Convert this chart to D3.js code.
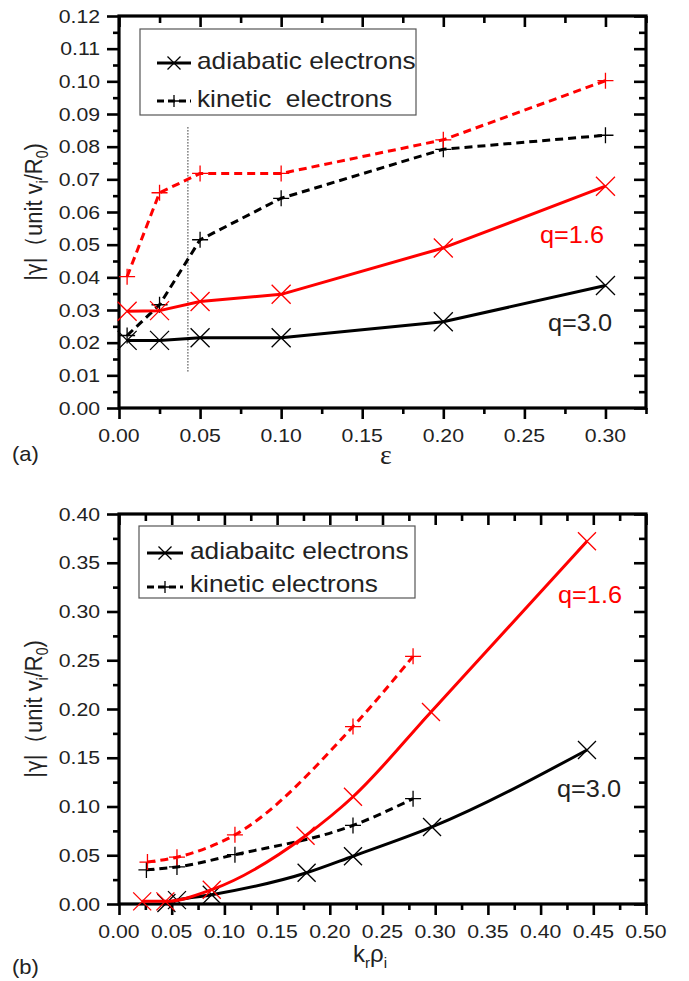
<!DOCTYPE html>
<html>
<head>
<meta charset="utf-8">
<script src="https://cdn.jsdelivr.net/npm/d3@7"></script>
<style>
  html, body { margin: 0; padding: 0; background: #fff; }
  svg { display: block; }
  text { font-family: "Liberation Sans", Arial, sans-serif; fill: #222; }
</style>
</head>
<body>
<svg id="chart" width="689" height="981"></svg>
<script>
// ---- panel (a): growth rate vs inverse aspect ratio epsilon ----
const epsValues      = [0.005, 0.025, 0.05, 0.10, 0.20, 0.30];
const adiabaticQ30_a = [0.0207, 0.0207, 0.0215, 0.0215, 0.0264, 0.0375];
const adiabaticQ16_a = [0.0296, 0.0298, 0.0326, 0.0348, 0.0490, 0.0679];
const kineticQ30_a   = [0.0222, 0.0316, 0.0515, 0.0642, 0.0792, 0.0835];
const kineticQ16_a   = [0.0402, 0.0659, 0.0718, 0.0718, 0.0821, 0.1002];
const epsTicks       = [0, 0.05, 0.10, 0.15, 0.20, 0.25, 0.30];
const gammaTicksA    = [0, 0.01, 0.02, 0.03, 0.04, 0.05, 0.06, 0.07, 0.08, 0.09, 0.10, 0.11, 0.12];
const markerEps      = 0.0425;          // vertical reference line
const markerEpsSpan  = [0.0111, 0.086];

// ---- panel (b): growth rate vs k_r rho_i ----
const krAdiabaticQ16 = [0.022, 0.044, 0.088, 0.177, 0.222, 0.296, 0.444];
const adiabaticQ16_b = [0.0027, 0.0027, 0.0147, 0.070, 0.110, 0.197, 0.372];
const krAdiabaticQ30 = [0.045, 0.055, 0.088, 0.178, 0.222, 0.297, 0.444];
const adiabaticQ30_b = [0.001, 0.004, 0.0095, 0.032, 0.049, 0.079, 0.158];
const krKineticQ16   = [0.027, 0.055, 0.110, 0.222, 0.279];
const kineticQ16_b   = [0.043, 0.048, 0.071, 0.182, 0.254];
const krKineticQ30   = [0.026, 0.055, 0.110, 0.222, 0.279];
const kineticQ30_b   = [0.035, 0.038, 0.0506, 0.0806, 0.108];
const krTicks        = [0, 0.05, 0.10, 0.15, 0.20, 0.25, 0.30, 0.35, 0.40, 0.45, 0.50];
const gammaTicksB    = [0, 0.05, 0.10, 0.15, 0.20, 0.25, 0.30, 0.35, 0.40];

const RED = "#ff0000", BLACK = "#000000";
const svg = d3.select("#chart");
const fmt = d3.format(".2f");

function zip(xs, ys) { return xs.map((x, i) => [x, ys[i]]); }
function halfSteps(ticks, lo, hi) {
  const step = (ticks[1] - ticks[0]) / 2, out = [];
  for (let v = lo; v <= hi + 1e-9; v += step) out.push(+v.toFixed(4));
  return out.filter(v => !ticks.some(t => Math.abs(t - v) < 1e-6));
}

// text with a slight horizontal stretch
function label(g, x, y, str, o = {}) {
  const t = g.append("text")
    .attr("transform", `translate(${x},${y}) scale(${o.sx || 1.13},1)`)
    .attr("text-anchor", o.anchor || "start")
    .attr("font-size", o.size || 18)
    .style("fill", o.color || "#222")
    .text(str);
  return t;
}

function crossPath(s) { return `M${-s},${-s}L${s},${s}M${-s},${s}L${s},${-s}`; }
function plusPath(s)  { return `M${-s},0L${s},0M0,${-s}L0,${s}`; }

function drawPanel(cfg) {
  const g = svg.append("g");
  const x = d3.scaleLinear().domain(cfg.xDomain).range([119, 646]);
  const y = d3.scaleLinear().domain(cfg.yDomain).range([cfg.bottom, cfg.top]);
  const xMinor = halfSteps(cfg.xTicks, cfg.xDomain[0], cfg.xDomain[1]);
  const yMinor = halfSteps(cfg.yTicks, cfg.yDomain[0], cfg.yDomain[1]);

  const tickAxis = (axis, vals, size, transform) => {
    g.append("g").attr("transform", transform)
      .call(axis.tickValues(vals).tickSize(size).tickFormat(""))
      .call(s => s.select(".domain").remove())
      .call(s => s.selectAll("line").attr("stroke", BLACK).attr("stroke-width", 2.6));
  };
  // outward ticks on left and bottom, inward on top and right
  tickAxis(d3.axisLeft(y), cfg.yTicks, 12, "translate(119,0)");
  tickAxis(d3.axisLeft(y), yMinor, 6, "translate(119,0)");
  tickAxis(d3.axisBottom(x), cfg.xTicks, 11, `translate(0,${cfg.bottom})`);
  tickAxis(d3.axisBottom(x), xMinor, 6, `translate(0,${cfg.bottom})`);
  tickAxis(d3.axisTop(x), cfg.xTicks, -11, `translate(0,${cfg.top})`);
  tickAxis(d3.axisTop(x), xMinor, -7, `translate(0,${cfg.top})`);
  tickAxis(d3.axisRight(y), cfg.yTicks, -12, "translate(646,0)");
  tickAxis(d3.axisRight(y), yMinor, -7, "translate(646,0)");

  // tick labels
  cfg.yTicks.forEach(v => label(g, 100, y(v) + 6.5, fmt(v), { anchor: "end", sx: 1.18, size: 18 }));
  cfg.xTicks.forEach(v => label(g, x(v), cfg.bottom + 33.5, fmt(v), { anchor: "middle", sx: 1.18, size: 18 }));

  // frame
  g.append("rect").attr("x", 119).attr("y", cfg.top)
    .attr("width", 527).attr("height", cfg.bottom - cfg.top)
    .attr("fill", "none").attr("stroke", BLACK).attr("stroke-width", 3.2);

  if (cfg.extra) cfg.extra(g, x, y);

  const line = d3.line().x(d => x(d[0])).y(d => y(d[1])).curve(cfg.curve);
  cfg.series.forEach(s => {
    const pts = zip(s.x, s.y);
    g.append("path").datum(pts).attr("d", line)
      .attr("fill", "none").attr("stroke", s.color).attr("stroke-width", 3)
      .attr("stroke-linejoin", "round")
      .attr("stroke-dasharray", s.dashed ? "8,5" : null);
    g.selectAll(null).data(pts).enter().append("path")
      .attr("transform", d => `translate(${x(d[0])},${y(d[1])})`)
      .attr("d", s.dashed ? plusPath(cfg.plusSize) : crossPath(cfg.crossSize))
      .attr("fill", "none").attr("stroke", s.color).attr("stroke-width", 1.3);
  });

  // legend
  const L = cfg.legend;
  g.append("rect").attr("x", L.x0).attr("y", L.y0).attr("width", L.x1 - L.x0).attr("height", L.y1 - L.y0)
    .attr("fill", "#fff").attr("stroke", "#555").attr("stroke-width", 1.2);
  L.rows.forEach(r => {
    g.append("line").attr("x1", L.lx0).attr("x2", L.lx1).attr("y1", r.ly).attr("y2", r.ly)
      .attr("stroke", BLACK).attr("stroke-width", 3)
      .attr("stroke-dasharray", r.dashed ? "7,4" : null);
    g.append("path").attr("transform", `translate(${(L.lx0 + L.lx1) / 2},${r.ly})`)
      .attr("d", r.dashed ? plusPath(6) : crossPath(6.5))
      .attr("fill", "none").attr("stroke", BLACK).attr("stroke-width", 1.3);
    label(g, L.tx, r.ty, r.text, { size: 23, sx: 1.14 }).style("white-space", "pre").attr("xml:space", "preserve");
  });

  // q annotations
  cfg.notes.forEach(n => label(g, n.x, n.y, n.text, { size: 23, sx: 1.1, color: n.color }));

  // axis titles
  const yl = g.append("text")
    .attr("transform", `translate(${cfg.yLabelX},${(cfg.top + cfg.bottom) / 2}) scale(1.12,1) rotate(-90)`)
    .attr("text-anchor", "middle").attr("font-size", 22).style("fill", "#222");
  yl.append("tspan").text("|");
  yl.append("tspan").style("font-family", "'DejaVu Sans', sans-serif").attr("font-size", 20).text("γ");
  yl.append("tspan").text("|（unit v");
  yl.append("tspan").attr("font-size", 14).attr("dy", 5).text("i");
  yl.append("tspan").attr("dy", -5).text("/R");
  yl.append("tspan").attr("font-size", 14).attr("dy", 5).text("0");
  yl.append("tspan").attr("dy", -5).text(")");

  cfg.xTitle(g);
  label(g, 12, cfg.panelY, cfg.panelTag, { size: 20, sx: 1.1 });
}

drawPanel({
  top: 16, bottom: 408,
  xDomain: [0, 0.325], yDomain: [0, 0.12],
  xTicks: epsTicks, yTicks: gammaTicksA,
  crossSize: 9.5, plusSize: 8,
  yLabelX: 42,
  curve: d3.curveLinear,
  series: [
    { x: epsValues, y: adiabaticQ30_a, color: BLACK, dashed: false },
    { x: epsValues, y: kineticQ30_a,   color: BLACK, dashed: true },
    { x: epsValues, y: adiabaticQ16_a, color: RED,   dashed: false },
    { x: epsValues, y: kineticQ16_a,   color: RED,   dashed: true }
  ],
  extra: (g, x, y) => {
    g.append("line")
      .attr("x1", x(markerEps)).attr("x2", x(markerEps))
      .attr("y1", y(markerEpsSpan[1])).attr("y2", y(markerEpsSpan[0]))
      .attr("stroke", "#333").attr("stroke-width", 1).attr("stroke-dasharray", "1.5,1.5");
  },
  legend: {
    x0: 140, y0: 29, x1: 416, y1: 115, lx0: 157, lx1: 191, tx: 197,
    rows: [
      { ly: 63, ty: 69, text: "adiabatic electrons", dashed: false },
      { ly: 101, ty: 107, text: "kinetic  electrons", dashed: true }
    ]
  },
  notes: [
    { x: 540, y: 243, text: "q=1.6", color: RED },
    { x: 548, y: 331, text: "q=3.0", color: "#222" }
  ],
  xTitle: g => {
    g.append("text").attr("x", 386).attr("y", 464).attr("text-anchor", "middle")
      .attr("font-size", 28).style("font-family", "'Liberation Serif', serif")
      .style("fill", "#222").text("ε");
  },
  panelTag: "(a)", panelY: 461
});

drawPanel({
  top: 514, bottom: 904,
  xDomain: [0, 0.5], yDomain: [0, 0.4],
  xTicks: krTicks, yTicks: gammaTicksB,
  crossSize: 9, plusSize: 8,
  yLabelX: 42,
  curve: d3.curveMonotoneX,
  series: [
    { x: krAdiabaticQ30, y: adiabaticQ30_b, color: BLACK, dashed: false },
    { x: krKineticQ30,   y: kineticQ30_b,   color: BLACK, dashed: true },
    { x: krAdiabaticQ16, y: adiabaticQ16_b, color: RED,   dashed: false },
    { x: krKineticQ16,   y: kineticQ16_b,   color: RED,   dashed: true }
  ],
  legend: {
    x0: 139, y0: 526, x1: 415, y1: 598, lx0: 147, lx1: 183, tx: 190,
    rows: [
      { ly: 553, ty: 559, text: "adiabaitc electrons", dashed: false },
      { ly: 587, ty: 592, text: "kinetic electrons", dashed: true }
    ]
  },
  notes: [
    { x: 558, y: 603, text: "q=1.6", color: RED },
    { x: 557, y: 797, text: "q=3.0", color: "#222" }
  ],
  xTitle: g => {
    const t = g.append("text").attr("x", 353).attr("y", 962).attr("font-size", 24).style("fill", "#222");
    t.append("tspan").text("k");
    t.append("tspan").attr("font-size", 15).attr("dy", 6).text("r");
    t.append("tspan").attr("dy", -6).text("ρ");
    t.append("tspan").attr("font-size", 15).attr("dy", 6).text("i");
  },
  panelTag: "(b)", panelY: 974
});
</script>
</body>
</html>
